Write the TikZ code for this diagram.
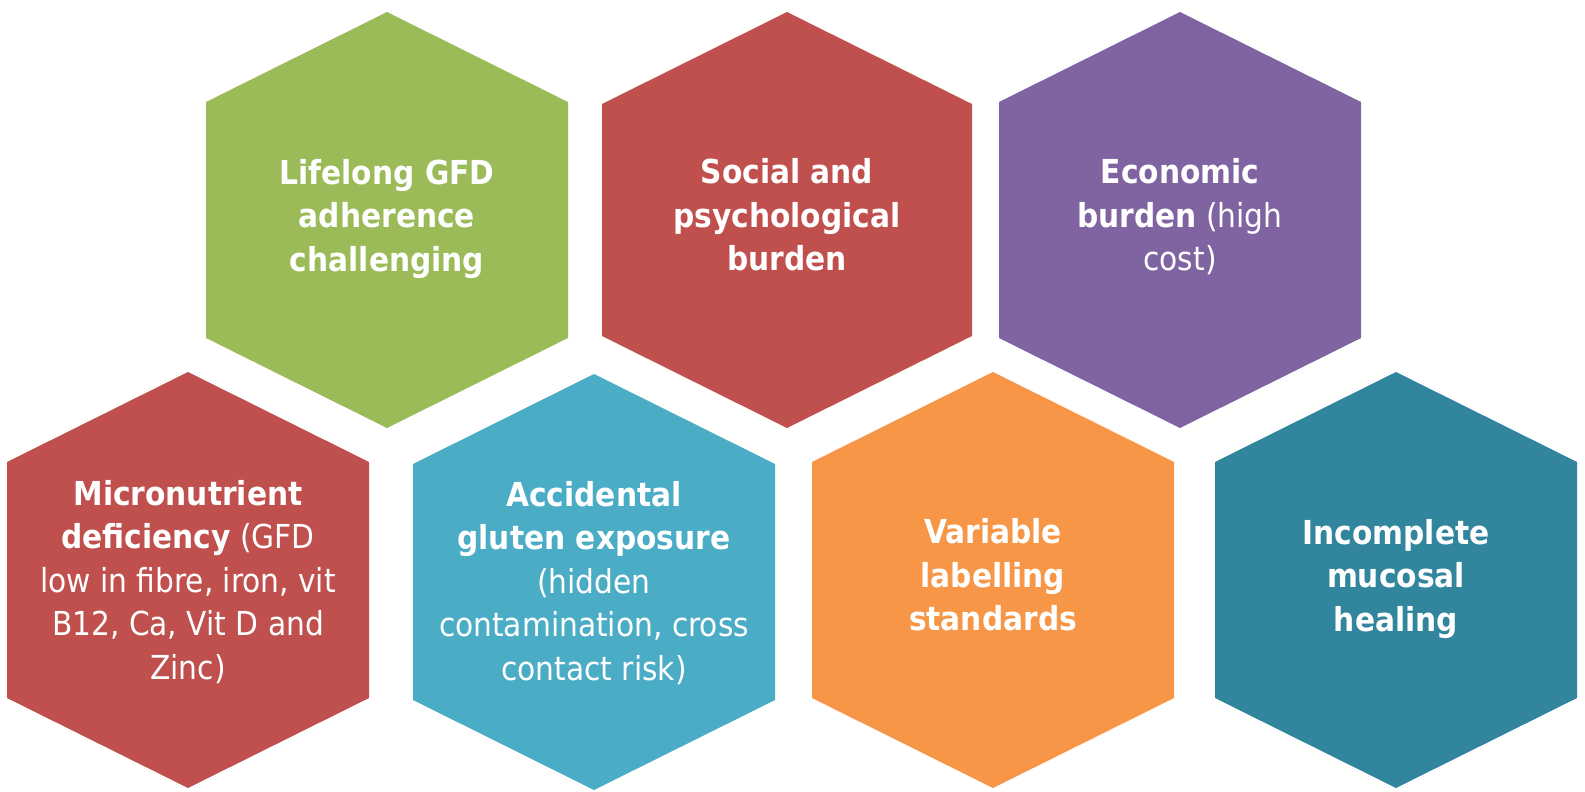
\documentclass[tikz,border=0pt]{standalone}
\usepackage{fontspec}
\setmainfont{DejaVu Sans Condensed}
\definecolor{cgreen}{HTML}{9BBB59}
\definecolor{cred}{HTML}{C0504D}
\definecolor{cpurple}{HTML}{8064A2}
\definecolor{cblue}{HTML}{4BACC6}
\definecolor{corange}{HTML}{F79646}
\definecolor{cteal}{HTML}{31859C}
\tikzset{
  hextext/.style={text=white, align=center, inner sep=0pt,
    font=\fontsize{33}{43.5}\selectfont},
}
% #1 name, #2 cx, #3 halfwidth, #4 top, #5 s1, #6 s2, #7 bot, #8 colour
\newcommand\hexcell[8]{%
  \fill[#8] (#2,#4) -- (#2+#3,#5) -- (#2+#3,#6) -- (#2,#7) -- (#2-#3,#6) -- (#2-#3,#5) -- cycle;
  \coordinate (#1) at (#2,{(#4+#7)/2});
}
\begin{document}
\begin{tikzpicture}[x=1pt,y=-1pt]
\useasboundingbox (0,0) rectangle (1585,792);
\hexcell{h1}{387}{181}{12}{102}{338}{428}{cgreen}
\hexcell{h2}{787}{185}{12}{104}{336}{428}{cred}
\hexcell{h3}{1180}{181}{12}{102}{338}{428}{cpurple}
\hexcell{h4}{188}{181}{372}{462}{698}{788}{cred}
\hexcell{h5}{594}{181}{374}{464}{700}{790}{cblue}
\hexcell{h6}{993}{181}{372}{462}{698}{788}{corange}
\hexcell{h7}{1396}{181}{372}{462}{698}{788}{cteal}
\node[hextext] (t1) at ([yshift=1pt]h1) {\bfseries Lifelong GFD\\\bfseries adherence\\\bfseries challenging};
\node[hextext] (t2) at ([yshift=5pt]h2) {\bfseries Social and\\\bfseries psychological\\\bfseries burden};
\node[hextext] (t3) at ([yshift=3pt]h3) {\bfseries Economic\\\textbf{burden} (high\\cost)};
\node[hextext] (t4) at ([yshift=-2pt]h4) {\bfseries Micronutrient\\\textbf{deficiency} (GFD\\low in fibre, iron, vit\\B12, Ca, Vit D and\\Zinc)};
\node[hextext] (t5) at ([yshift=-1pt]h5) {\bfseries Accidental\\\bfseries gluten exposure\\(hidden\\contamination, cross\\contact risk)};
\node[hextext] (t6) at ([yshift=5pt]h6) {\bfseries Variable\\\bfseries labelling\\\bfseries standards};
\node[hextext] (t7) at ([yshift=1pt]h7) {\bfseries Incomplete\\\bfseries mucosal\\\bfseries healing};
\end{tikzpicture}
\end{document}
